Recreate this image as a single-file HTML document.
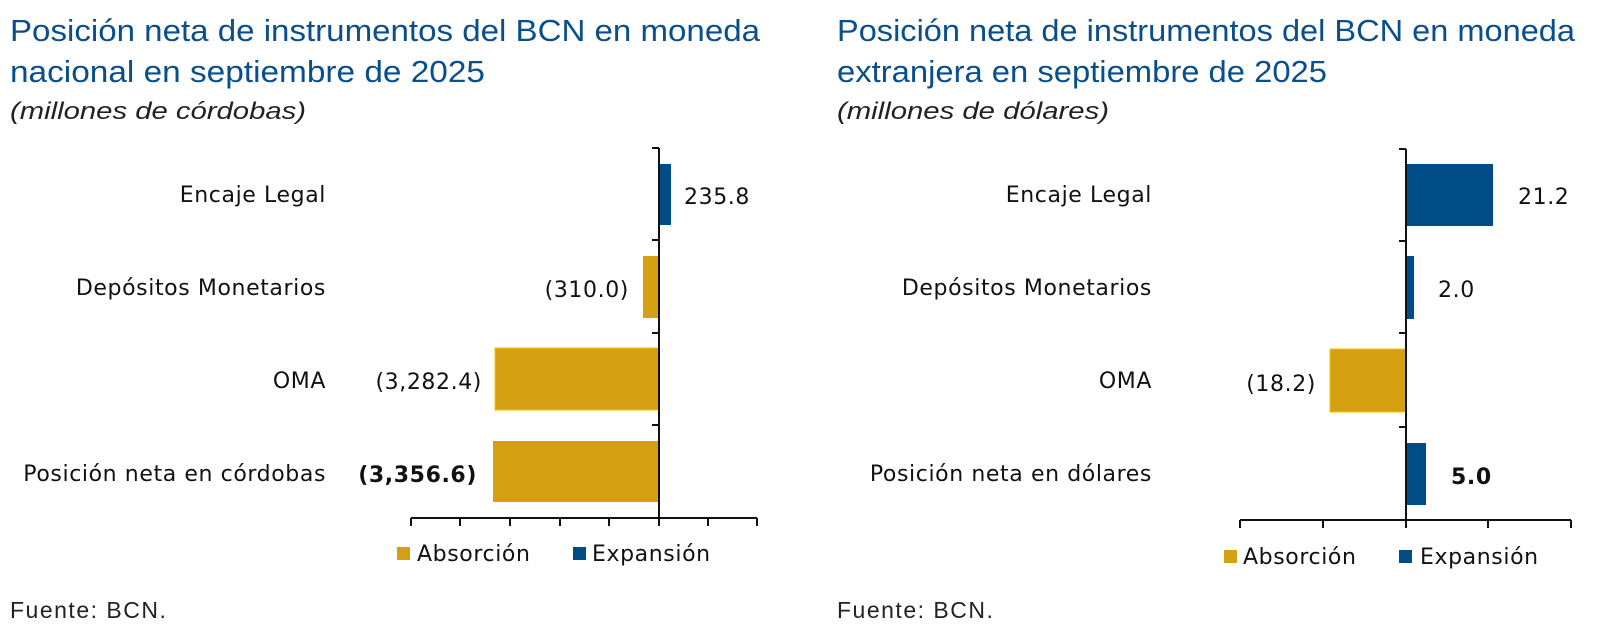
<!DOCTYPE html>
<html><head><meta charset="utf-8"><style>
html,body{margin:0;padding:0;background:#fff;}
svg{display:block;}
.t{font-family:"Liberation Sans",sans-serif;fill:#0b4f8a;font-size:31px;}
.s{font-family:"Liberation Sans",sans-serif;font-style:italic;fill:#222;font-size:24px;}
.l{font-family:"DejaVu Sans",sans-serif;fill:#111;font-size:22px;letter-spacing:0.6px;}
.f{font-family:"Liberation Sans",sans-serif;fill:#222;font-size:23px;letter-spacing:1.5px;}
</style></head><body>
<svg width="1603" height="639" viewBox="0 0 1603 639" xmlns="http://www.w3.org/2000/svg">
<!-- Left -->
<text class="t" x="10" y="41" textLength="750" lengthAdjust="spacingAndGlyphs">Posición neta de instrumentos del BCN en moneda</text>
<text class="t" x="10" y="82" textLength="475" lengthAdjust="spacingAndGlyphs">nacional en septiembre de 2025</text>
<text class="s" x="10" y="119" textLength="296" lengthAdjust="spacingAndGlyphs">(millones de córdobas)</text>

<rect x="659" y="164" width="12" height="61" fill="#004C86"/>
<rect x="643" y="256" width="16" height="62" fill="#D4A012"/>
<rect x="495" y="348" width="164" height="62" fill="#D4A012" stroke="#f5c400" stroke-width="1"/>
<rect x="493" y="441" width="166" height="61" fill="#D4A012"/>
<g stroke="#111" stroke-width="2" fill="none">
<line x1="659" y1="148" x2="659" y2="519"/>
<line x1="411" y1="518" x2="757" y2="518"/>
<line x1="652" y1="148" x2="659" y2="148"/><line x1="652" y1="240" x2="659" y2="240"/><line x1="652" y1="333" x2="659" y2="333"/><line x1="652" y1="425" x2="659" y2="425"/>
<line x1="411" y1="518" x2="411" y2="526"/><line x1="460" y1="518" x2="460" y2="526"/><line x1="510" y1="518" x2="510" y2="526"/><line x1="560" y1="518" x2="560" y2="526"/><line x1="609" y1="518" x2="609" y2="526"/><line x1="659" y1="518" x2="659" y2="526"/><line x1="708" y1="518" x2="708" y2="526"/><line x1="757" y1="518" x2="757" y2="526"/>
</g>
<g class="l" text-anchor="end">
<text x="326" y="202">Encaje Legal</text>
<text x="326" y="295">Depósitos Monetarios</text>
<text x="326" y="388">OMA</text>
<text x="326" y="481">Posición neta en córdobas</text>
<text x="629" y="297">(310.0)</text>
<text x="482" y="389">(3,282.4)</text>
<text x="477" y="482" font-weight="bold">(3,356.6)</text>
</g>
<text class="l" x="684" y="204">235.8</text>
<rect x="397" y="547" width="13" height="13" fill="#D4A012"/>
<text class="l" x="417" y="561">Absorción</text>
<rect x="573" y="547" width="13" height="13" fill="#004C86"/>
<text class="l" x="592" y="561">Expansión</text>
<text class="f" x="10" y="618">Fuente: BCN.</text>

<!-- Right -->
<text class="t" x="837" y="41" textLength="738" lengthAdjust="spacingAndGlyphs">Posición neta de instrumentos del BCN en moneda</text>
<text class="t" x="837" y="82" textLength="490" lengthAdjust="spacingAndGlyphs">extranjera en septiembre de 2025</text>
<text class="s" x="837" y="119" textLength="272" lengthAdjust="spacingAndGlyphs">(millones de dólares)</text>

<rect x="1406" y="164" width="87" height="62" fill="#004C86"/>
<rect x="1406" y="256" width="8" height="63" fill="#004C86"/>
<rect x="1330" y="349" width="76" height="63" fill="#D4A012" stroke="#f5c400" stroke-width="1"/>
<rect x="1406" y="443" width="20" height="62" fill="#004C86"/>
<g stroke="#111" stroke-width="2" fill="none">
<line x1="1406" y1="149" x2="1406" y2="521"/>
<line x1="1240" y1="520" x2="1571" y2="520"/>
<line x1="1399" y1="149" x2="1406" y2="149"/><line x1="1399" y1="241" x2="1406" y2="241"/><line x1="1399" y1="333" x2="1406" y2="333"/><line x1="1399" y1="427" x2="1406" y2="427"/>
<line x1="1240" y1="520" x2="1240" y2="528"/><line x1="1323" y1="520" x2="1323" y2="528"/><line x1="1406" y1="520" x2="1406" y2="528"/><line x1="1488" y1="520" x2="1488" y2="528"/><line x1="1571" y1="520" x2="1571" y2="528"/>
</g>
<g class="l" text-anchor="end">
<text x="1152" y="202">Encaje Legal</text>
<text x="1152" y="295">Depósitos Monetarios</text>
<text x="1152" y="388">OMA</text>
<text x="1152" y="481">Posición neta en dólares</text>
<text x="1316" y="391">(18.2)</text>
</g>
<text class="l" x="1518" y="204">21.2</text>
<text class="l" x="1438" y="297">2.0</text>
<text class="l" x="1451" y="484" font-weight="bold">5.0</text>
<rect x="1224" y="550" width="13" height="13" fill="#D4A012"/>
<text class="l" x="1243" y="564">Absorción</text>
<rect x="1399" y="550" width="13" height="13" fill="#004C86"/>
<text class="l" x="1420" y="564">Expansión</text>
<text class="f" x="837" y="618">Fuente: BCN.</text>
</svg>
</body></html>
